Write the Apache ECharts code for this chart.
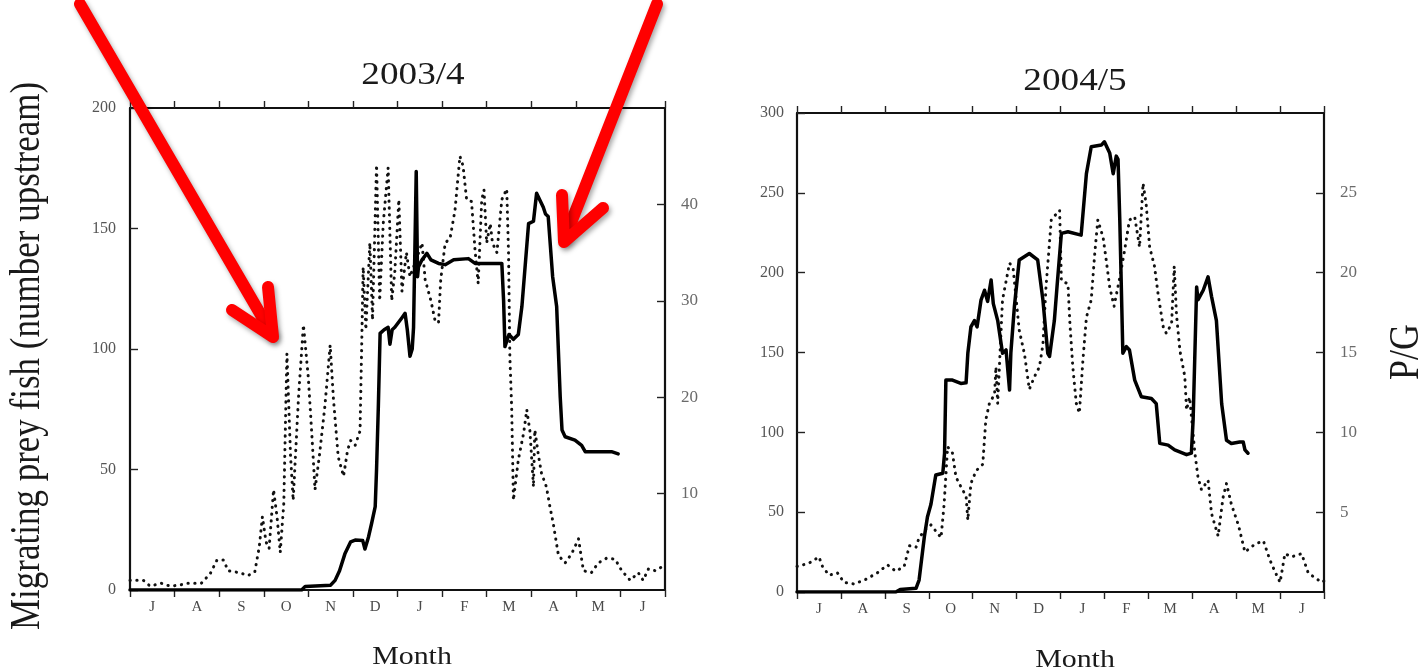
<!DOCTYPE html>
<html>
<head>
<meta charset="utf-8">
<script src="https://cdn.jsdelivr.net/npm/echarts@6/dist/echarts.min.js"></script>
<style>
  html, body { margin: 0; padding: 0; background: #fff; }
  #chart { width: 1427px; height: 672px; }
</style>
</head>
<body>
<div id="chart"></div>
<script>
// Months of the migration season, July to June; axis shows the initial letter
const monthNames = ['Jul', 'Aug', 'Sep', 'Oct', 'Nov', 'Dec', 'Jan', 'Feb', 'Mar', 'Apr', 'May', 'Jun'];

// x = months since 1 July, y = migrating prey fish (number upstream)
const fish2003 = [
  [0, 0], [3.85, 0], [3.93, 1.5], [4.5, 2], [4.6, 4], [4.7, 8], [4.82, 15], [4.95, 20], [5.05, 20.7],
  [5.22, 20.5], [5.27, 17], [5.35, 22], [5.42, 27.7], [5.5, 34.6], [5.53, 50], [5.57, 76], [5.61, 106.5],
  [5.7, 108], [5.79, 109], [5.83, 102], [5.88, 108], [5.94, 109], [6.1, 113], [6.17, 114.8], [6.22, 108],
  [6.28, 97], [6.33, 100], [6.36, 109], [6.42, 173.6], [6.45, 130], [6.47, 134], [6.55, 137], [6.66, 139.7],
  [6.75, 137], [6.92, 135.5], [7.07, 135], [7.26, 137], [7.59, 137.5], [7.74, 135.5], [8.34, 135.5],
  [8.38, 120], [8.41, 101], [8.5, 106], [8.6, 104], [8.71, 106], [8.79, 117.6], [8.94, 152], [9.05, 153],
  [9.12, 164.6], [9.27, 158.8], [9.32, 156], [9.38, 155], [9.48, 130], [9.57, 117.6], [9.65, 80],
  [9.69, 66.4], [9.76, 63.6], [9.98, 62.2], [10.13, 60], [10.21, 57.4], [10.8, 57.4], [10.95, 56.5]
];

// x = months since 1 July, y = P/G ratio
const pg2003 = [
  [0, 1.0], [0.3, 1.0], [0.45, 0.4], [0.7, 0.7], [0.9, 0.4], [1.1, 0.5], [1.3, 0.7], [1.6, 0.7],
  [1.8, 1.7], [1.95, 3.1], [2.1, 3.1], [2.2, 2.0], [2.45, 1.8], [2.65, 1.5], [2.8, 1.9], [2.9, 4.5],
  [2.97, 7.6], [3.05, 5.0], [3.12, 4.3], [3.22, 10.4], [3.3, 7.5], [3.37, 3.9], [3.45, 9.0], [3.52, 24.5],
  [3.6, 14], [3.66, 9.3], [3.78, 20], [3.89, 27.5], [4.0, 22], [4.08, 16], [4.15, 10.4], [4.25, 14],
  [4.37, 19], [4.49, 25.4], [4.56, 20], [4.67, 13.8], [4.79, 11.8], [4.88, 14.5], [4.95, 15.5], [5.05, 15],
  [5.16, 16.5], [5.2, 26], [5.23, 33.5], [5.29, 27], [5.38, 36], [5.44, 28], [5.53, 44.1], [5.6, 30],
  [5.68, 38], [5.79, 43.8], [5.87, 30], [5.94, 33], [6.03, 40.5], [6.1, 31], [6.2, 35], [6.28, 32.5],
  [6.4, 34], [6.55, 36], [6.62, 32.2], [6.75, 30], [6.84, 28], [6.92, 27.7], [6.97, 32.2], [7.07, 36],
  [7.18, 36.5], [7.29, 39.4], [7.4, 45], [7.47, 44], [7.55, 40.5], [7.66, 40.3], [7.74, 35.2], [7.81, 31.8],
  [7.89, 40.5], [7.94, 41.5], [8.0, 36], [8.08, 38], [8.13, 36], [8.23, 35], [8.34, 40.5], [8.45, 41.6],
  [8.49, 35], [8.52, 24.2], [8.56, 19], [8.6, 9.3], [8.71, 13.5], [8.83, 16.3], [8.9, 18.7], [8.97, 16.5],
  [9.05, 10.7], [9.08, 16.6], [9.16, 14], [9.23, 12.1], [9.34, 10.7], [9.42, 8.6], [9.49, 7], [9.61, 3.6],
  [9.76, 2.8], [9.91, 3.8], [10.06, 5.3], [10.17, 2.0], [10.35, 1.8], [10.5, 2.8], [10.69, 3.3],
  [10.88, 3.2], [11.03, 2.0], [11.22, 1.0], [11.4, 1.8], [11.51, 1.0], [11.63, 2.2], [11.78, 2.0],
  [11.93, 2.4], [12, 2.0]
];

const fish2004 = [
  [0, 0], [2.25, 0], [2.35, 1.5], [2.71, 2.3], [2.78, 7.5], [2.9, 34.6], [2.97, 47], [3.05, 55],
  [3.16, 73.3], [3.32, 74.4], [3.36, 86.9], [3.39, 132.7], [3.54, 132.7], [3.73, 130.6], [3.85, 131],
  [3.89, 149.5], [3.96, 166], [4.04, 170], [4.1, 166], [4.19, 182.8], [4.27, 189], [4.34, 182],
  [4.42, 195.4], [4.47, 180.6], [4.57, 170], [4.68, 149.5], [4.76, 151.6], [4.84, 126.5], [4.87, 150],
  [4.95, 178.7], [5.06, 207.9], [5.29, 212], [5.48, 208], [5.6, 182.8], [5.71, 149.5], [5.75, 147.5],
  [5.86, 170], [5.92, 191], [6.02, 224.6], [6.17, 225.6], [6.47, 223.5], [6.59, 262], [6.7, 278.9],
  [6.93, 279.9], [7.0, 282], [7.12, 275], [7.2, 262], [7.27, 273], [7.31, 271], [7.35, 233], [7.42, 149.5],
  [7.5, 153.7], [7.57, 151.6], [7.69, 132.7], [7.84, 122.3], [8.07, 121.2], [8.18, 118], [8.26, 93.1],
  [8.45, 92], [8.6, 89], [8.87, 86], [8.98, 87], [9.02, 108], [9.1, 191], [9.13, 183], [9.25, 189],
  [9.36, 197.4], [9.44, 185], [9.55, 170], [9.67, 117.9], [9.78, 95], [9.89, 93], [10.08, 94],
  [10.16, 94], [10.2, 89], [10.27, 86.9]
];

const pg2004 = [
  [0, 1.6], [0.27, 1.8], [0.5, 2.2], [0.58, 1.6], [0.73, 1.05], [0.92, 1.2], [1.07, 0.6], [1.3, 0.5],
  [1.57, 0.8], [1.83, 1.2], [2.06, 1.7], [2.25, 1.3], [2.44, 1.6], [2.56, 2.9], [2.71, 2.8], [2.78, 3.4],
  [2.92, 3.9], [3.05, 4.2], [3.28, 3.4], [3.35, 5.5], [3.43, 9.1], [3.54, 8.7], [3.62, 7.2], [3.73, 6.6],
  [3.85, 6.0], [3.89, 4.5], [3.96, 6.8], [4.08, 7.6], [4.23, 8.0], [4.3, 10.8], [4.38, 11.8], [4.5, 12.4],
  [4.53, 14.1], [4.57, 11.8], [4.68, 18.3], [4.84, 20.6], [4.92, 20.3], [5.06, 16.4], [5.18, 14.9],
  [5.29, 12.7], [5.41, 13.5], [5.52, 14.1], [5.6, 15.5], [5.67, 19.1], [5.79, 23.3], [5.88, 23.6],
  [5.98, 23.9], [6.02, 19.5], [6.17, 19.3], [6.21, 17], [6.28, 14.1], [6.36, 11.8], [6.43, 11.2],
  [6.51, 14.5], [6.59, 17.2], [6.7, 18.3], [6.78, 21.2], [6.85, 23.3], [6.97, 22.2], [7.04, 20.8],
  [7.12, 19.1], [7.22, 17.9], [7.35, 19.7], [7.46, 21.4], [7.57, 23.3], [7.69, 23.5], [7.8, 21.6],
  [7.88, 25.6], [7.95, 24.3], [8.03, 21.6], [8.14, 20.4], [8.22, 18.7], [8.34, 16.6], [8.41, 16.2],
  [8.53, 16.8], [8.59, 20.4], [8.64, 17.4], [8.72, 15.1], [8.83, 13.5], [8.87, 11.4], [8.94, 12.2],
  [9.06, 8.7], [9.13, 7.2], [9.21, 6.4], [9.36, 7.0], [9.44, 4.9], [9.59, 3.5], [9.7, 5.9], [9.78, 6.8],
  [9.89, 5.5], [10.05, 4.2], [10.2, 2.5], [10.43, 3.0], [10.62, 3.2], [10.77, 2.0], [10.88, 1.3],
  [11.0, 0.6], [11.11, 2.4], [11.26, 2.2], [11.49, 2.4], [11.64, 1.2], [11.79, 0.9], [11.95, 0.6], [12, 0.7]
];

const SERIF = '"Liberation Serif", "DejaVu Serif", serif';
const INK = '#000';

const chart = echarts.init(document.getElementById('chart'));

const frameLine = { show: true, onZero: false, lineStyle: { color: '#111', width: 2.2 } };
const tickStyle = { color: '#222', width: 1.4 };

function monthAxes(gridIndex) {
  return [
    {
      type: 'category', gridIndex, position: 'bottom', data: monthNames, boundaryGap: true,
      axisLine: frameLine,
      axisTick: { show: true, inside: false, length: 7, lineStyle: tickStyle },
      axisLabel: {
        formatter: (v) => v.charAt(0), fontFamily: SERIF, fontSize: 15, color: '#4a4a4a', margin: 10
      },
      splitLine: { show: false }
    },
    {
      type: 'category', gridIndex, position: 'top', data: monthNames, boundaryGap: true,
      axisLine: frameLine,
      axisTick: { show: true, inside: false, length: 7, lineStyle: tickStyle },
      axisLabel: { show: false },
      splitLine: { show: false }
    },
    { type: 'value', gridIndex, min: 0, max: 12, show: false }
  ];
}

function valueAxes(gridIndex, fishMax, fishStep, pgMax, pgStep, leftMargin, rightMargin) {
  return [
    {
      type: 'value', gridIndex, position: 'left', min: 0, max: fishMax, interval: fishStep,
      axisLine: frameLine,
      axisTick: { show: true, inside: true, length: 8, lineStyle: tickStyle },
      axisLabel: { fontFamily: SERIF, fontSize: 16, color: '#555', margin: leftMargin },
      splitLine: { show: false }
    },
    {
      type: 'value', gridIndex, position: 'right', min: 0, max: pgMax, interval: pgStep,
      axisLine: frameLine,
      axisTick: { show: true, inside: true, length: 8, lineStyle: tickStyle },
      axisLabel: {
        fontFamily: SERIF, fontSize: 17, color: '#6a6a6a', margin: rightMargin,
        showMinLabel: false, showMaxLabel: false
      },
      splitLine: { show: false }
    }
  ];
}

function solidSeries(data, xAxisIndex, yAxisIndex) {
  return {
    type: 'line', data, xAxisIndex, yAxisIndex, showSymbol: false, symbol: 'none',
    animation: false, z: 3,
    lineStyle: { color: INK, width: 3.5, join: 'round', cap: 'round' }
  };
}

function dottedSeries(data, xAxisIndex, yAxisIndex) {
  return {
    type: 'line', data, xAxisIndex, yAxisIndex, showSymbol: false, symbol: 'none',
    animation: false, z: 2,
    lineStyle: { color: '#111', width: 3, type: [0.3, 6.5], cap: 'round', join: 'round' }
  };
}

function label(text, x, y, size, opts) {
  const o = opts || {};
  return {
    type: 'text', x, y, rotation: o.rotation || 0, scaleX: o.scaleX || 1, scaleY: o.scaleY || 1, z: 50,
    style: {
      text, x: 0, y: 0, fill: '#1a1a1a', font: size + 'px ' + SERIF,
      textAlign: 'center', textVerticalAlign: 'middle', verticalAlign: 'middle'
    }
  };
}

const arrowStyle = {
  stroke: '#ff0000', fill: null, lineWidth: 12, lineCap: 'round', lineJoin: 'round',
  shadowBlur: 5, shadowColor: 'rgba(0,0,0,0.35)', shadowOffsetX: 2, shadowOffsetY: 3
};

function arrow(points) {
  return { type: 'polyline', z: 100, shape: { points }, style: arrowStyle };
}

chart.setOption({
  backgroundColor: '#fff',
  animation: false,
  grid: [
    { left: 130, top: 108, width: 535, height: 482 },
    { left: 797, top: 113, width: 527, height: 479 }
  ],
  xAxis: [...monthAxes(0), ...monthAxes(1)],
  yAxis: [
    ...valueAxes(0, 200, 50, 50, 10, 14, 16),
    ...valueAxes(1, 300, 50, 30, 5, 13, 16)
  ],
  series: [
    dottedSeries(pg2003, 2, 1),
    solidSeries(fish2003, 2, 0),
    dottedSeries(pg2004, 5, 3),
    solidSeries(fish2004, 5, 2)
  ],
  graphic: [
    label('2003/4', 413, 76, 31, { scaleX: 1.2 }),
    label('2004/5', 1075, 82, 31, { scaleX: 1.2 }),
    label('Month', 412, 657, 26, { scaleX: 1.15 }),
    label('Month', 1075, 660, 26, { scaleX: 1.15 }),
    label('Migrating prey fish (number upstream)', 28, 356, 35, { rotation: Math.PI / 2, scaleY: 1.2 }),
    label('P/G', 1407, 352, 36, { rotation: Math.PI / 2, scaleY: 1.15 }),
    // left arrow, pointing at the autumn P/G peaks
    arrow([[80, 4], [272, 334]]),
    arrow([[232, 310], [273, 337], [268, 287]]),
    // right arrow, pointing at the spring fish peak
    arrow([[657, 4], [565, 238]]),
    arrow([[562, 195], [564, 242], [603, 208]])
  ]
});
</script>
</body>
</html>
